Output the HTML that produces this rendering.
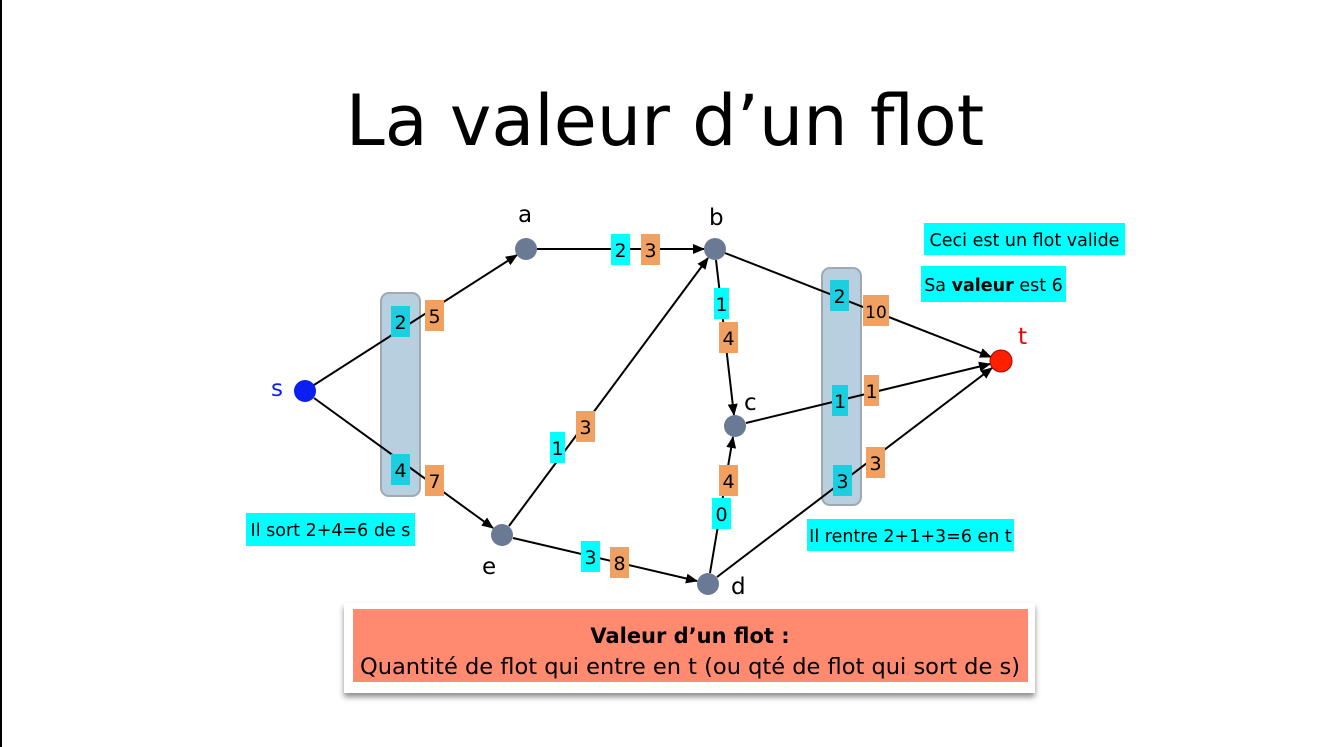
<!DOCTYPE html>
<html><head><meta charset="utf-8"><style>
html,body{margin:0;padding:0;background:#fff;}
svg{display:block;}
text{font-family:"DejaVu Sans","Liberation Sans",sans-serif;}
</style></head><body>
<svg width="1328" height="747" viewBox="0 0 1328 747" xmlns="http://www.w3.org/2000/svg">
<defs>
<marker id="ar" markerWidth="12" markerHeight="10" refX="11" refY="5" orient="auto" markerUnits="userSpaceOnUse">
<path d="M0,0 L12,5 L0,10 Z" fill="#000"/></marker>
<filter id="sh" x="-5%" y="-20%" width="110%" height="150%"><feDropShadow dx="0" dy="4" stdDeviation="3" flood-color="#000" flood-opacity="0.45"/></filter>
</defs>
<rect x="0" y="0" width="2" height="747" fill="#000"/>
<text x="665" y="145" font-size="70" text-anchor="middle" fill="#000">La valeur d’un flot</text>

<rect x="381" y="293" width="39" height="203" rx="8" fill="#b8cfe0" stroke="#a0a8b0" stroke-width="2"/>
<rect x="822" y="268" width="39" height="237" rx="8" fill="#b8cfe0" stroke="#a0a8b0" stroke-width="2"/>

<g stroke="#000" stroke-width="2" fill="none">
<line x1="314" y1="385" x2="517" y2="255" marker-end="url(#ar)"/>
<line x1="537" y1="249" x2="704" y2="249" marker-end="url(#ar)"/>
<line x1="314" y1="398" x2="493" y2="528" marker-end="url(#ar)"/>
<line x1="509" y1="526" x2="708" y2="258" marker-end="url(#ar)"/>
<line x1="716" y1="260" x2="734" y2="415" marker-end="url(#ar)"/>
<line x1="710" y1="573" x2="733" y2="437" marker-end="url(#ar)"/>
<line x1="513" y1="538" x2="697" y2="581" marker-end="url(#ar)"/>
<line x1="725" y1="253" x2="991" y2="357" marker-end="url(#ar)"/>
<line x1="746" y1="423" x2="990" y2="364" marker-end="url(#ar)"/>
<line x1="717" y1="577" x2="992" y2="368" marker-end="url(#ar)"/>
</g>

<g fill="#6b7a94">
<circle cx="526" cy="249" r="11"/><circle cx="715" cy="249" r="11"/>
<circle cx="735" cy="426" r="11"/><circle cx="502" cy="535" r="11"/>
<circle cx="708" cy="584" r="11"/>
</g>
<circle cx="305" cy="391" r="11" fill="#0a1ff0"/>
<circle cx="1001" cy="361" r="11" fill="#ff2000" stroke="#a00" stroke-width="1"/>

<g font-size="23" fill="#000">
<text x="518" y="222">a</text><text x="709" y="225">b</text>
<text x="744" y="410">c</text><text x="482" y="574">e</text>
<text x="731" y="594">d</text>
<text x="271" y="396" fill="#0a1ff0">s</text>
<text x="1018" y="344" fill="#e00">t</text>
</g>

<g font-size="19" text-anchor="middle">
<rect x="391" y="306" width="19" height="31" fill="#1ccfe0"/><text x="400.5" y="329">2</text>
<rect x="425" y="300" width="19" height="31" fill="#f0a060"/><text x="434.5" y="323">5</text>
<rect x="391" y="454" width="19" height="31" fill="#1ccfe0"/><text x="400.5" y="477">4</text>
<rect x="425" y="465" width="19" height="31" fill="#f0a060"/><text x="434.5" y="488">7</text>
<rect x="611" y="234" width="19" height="31" fill="#00ffff"/><text x="620.5" y="257">2</text>
<rect x="641" y="234" width="19" height="31" fill="#f0a060"/><text x="650.5" y="257">3</text>
<rect x="714" y="288" width="15" height="31" fill="#00ffff"/><text x="721.5" y="311">1</text>
<rect x="719" y="322" width="19" height="31" fill="#f0a060"/><text x="728.5" y="345">4</text>
<rect x="550" y="432" width="15" height="31" fill="#00ffff"/><text x="557.5" y="455">1</text>
<rect x="576" y="411" width="19" height="31" fill="#f0a060"/><text x="585.5" y="434">3</text>
<rect x="719" y="465" width="19" height="31" fill="#f0a060"/><text x="728.5" y="488">4</text>
<rect x="712" y="498" width="19" height="31" fill="#00ffff"/><text x="721.5" y="521">0</text>
<rect x="581" y="541" width="19" height="31" fill="#00ffff"/><text x="590.5" y="564">3</text>
<rect x="610" y="547" width="19" height="31" fill="#f0a060"/><text x="619.5" y="570">8</text>
<rect x="830" y="280" width="19" height="31" fill="#1ccfe0"/><text x="839.5" y="303">2</text>
<rect x="863" y="295" width="26" height="31" fill="#f0a060"/><text x="876" y="318" font-size="17">10</text>
<rect x="832" y="385" width="16" height="31" fill="#1ccfe0"/><text x="840" y="408">1</text>
<rect x="864" y="375" width="15" height="31" fill="#f0a060"/><text x="871.5" y="398">1</text>
<rect x="833" y="465" width="19" height="31" fill="#1ccfe0"/><text x="842.5" y="488">3</text>
<rect x="866" y="447" width="19" height="31" fill="#f0a060"/><text x="875.5" y="470">3</text>
</g>

<g font-size="17.5">
<rect x="924" y="223" width="201" height="32" fill="#00ffff"/><text x="1024.5" y="246" text-anchor="middle">Ceci est un flot valide</text>
<rect x="921" y="266" width="145" height="36" fill="#00ffff"/><text x="993.5" y="291" text-anchor="middle">Sa <tspan font-weight="bold">valeur</tspan> est 6</text>
<rect x="246" y="513" width="169" height="33" fill="#00ffff"/><text x="330.5" y="536" text-anchor="middle">Il sort 2+4=6 de s</text>
<rect x="807" y="519" width="207" height="32" fill="#00ffff"/><text x="910.5" y="542" text-anchor="middle">Il rentre 2+1+3=6 en t</text>
</g>

<rect x="344" y="603" width="691" height="90" fill="#fff" filter="url(#sh)"/>
<rect x="353" y="609" width="675" height="73" fill="#ff8a70"/>
<text x="690" y="643" font-size="21" font-weight="bold" text-anchor="middle">Valeur d’un flot :</text>
<text x="690" y="674" font-size="22" text-anchor="middle" textLength="660" lengthAdjust="spacingAndGlyphs">Quantité de flot qui entre en t (ou qté de flot qui sort de s)</text>
</svg>
</body></html>
